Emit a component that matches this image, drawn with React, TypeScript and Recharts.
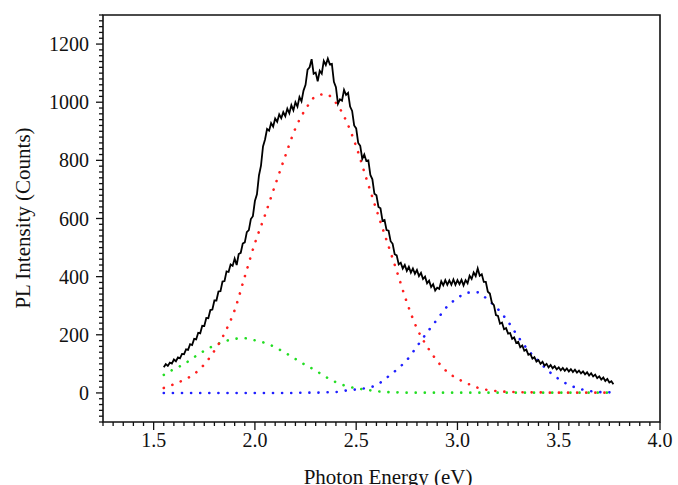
import { LineChart, Line, XAxis, YAxis, ReferenceArea } from 'recharts';

// measured PL spectrum, one reading every 0.01 eV starting at 1.55 eV
const PL_START = 1.55;
const PL_STEP = 0.01;
const plCounts = [
  88, 99, 93, 104, 101, 115, 109, 122, 119, 134,
  133, 150, 148, 168, 165, 186, 184, 207, 205, 231,
  230, 258, 257, 285, 287, 318, 318, 349, 350, 383,
  385, 418, 416, 442, 437, 462, 440, 478, 482, 514,
  518, 553, 560, 598, 608, 660, 683, 748, 782, 848,
  872, 908, 902, 928, 916, 944, 933, 958, 945, 966,
  952, 978, 962, 990, 972, 1000, 985, 1018, 1003, 1040,
  1060, 1112, 1120, 1148, 1098, 1102, 1072, 1108, 1098, 1142,
  1128, 1150, 1130, 1132, 1070, 1052, 995, 1010, 1005, 1042,
  1025, 1032, 985, 970, 920, 910, 860, 850, 805, 820,
  798, 800, 750, 735, 685, 680, 640, 635, 592, 595,
  560, 558, 522, 513, 477, 473, 442, 448, 428, 440,
  420, 434, 414, 428, 410, 423, 402, 413, 392, 400,
  377, 386, 364, 374, 352, 362, 358, 384, 370, 388,
  372, 387, 372, 390, 372, 388, 374, 389, 370, 388,
  377, 403, 392, 414, 402, 428, 403, 408, 382, 382,
  348, 342, 310, 302, 268, 265, 238, 242, 219, 223,
  204, 206, 186, 191, 172, 176, 157, 163, 145, 149,
  131, 134, 118, 123, 108, 113, 100, 107, 94, 100,
  88, 96, 85, 92, 81, 88, 78, 86, 76, 84,
  74, 82, 72, 80, 70, 77, 67, 74, 64, 71,
  60, 68, 57, 63, 51, 57, 46, 53, 41, 48,
  36, 40, 30,
];

// gaussian fit components
const fitEnergy = [
  1.55, 1.6, 1.65, 1.7, 1.75, 1.8, 1.85, 1.9, 1.95, 2.0,
  2.05, 2.1, 2.15, 2.2, 2.25, 2.3, 2.35, 2.4, 2.45, 2.5,
  2.55, 2.6, 2.65, 2.7, 2.75, 2.8, 2.85, 2.9, 2.95, 3.0,
  3.05, 3.1, 3.15, 3.2, 3.25, 3.3, 3.35, 3.4, 3.45, 3.5,
  3.55, 3.6, 3.65, 3.7, 3.75, 3.77,
];
const fitRed = [
  17, 30, 45, 65, 98, 145, 205, 285, 400, 515,
  612, 715, 815, 910, 976, 1020, 1028, 998, 937, 848,
  738, 630, 525, 420, 312, 222, 160, 110, 72, 49,
  32, 18, 10, 6, 4, 3, 2, 2, 1, 1,
  1, 1, 1, 1, 1, 1,
];
const fitGreen = [
  62, 82, 99, 123, 145, 163, 177, 186, 188, 181,
  172, 157, 138, 117, 96, 77, 55, 37, 24, 16,
  11, 6, 3, 2, 1, 1, 1, 1, 1, 1,
  1, 1, 1, 1, 1, 1, 1, 1, 1, 1,
  1, 1, 1, 1, 1, 1,
];
const fitBlue = [
  0, 0, 0, 0, 0, 0, 0, 0, 0, 0,
  0, 0, 0, 0, 1, 1, 2, 3, 8, 12,
  17, 27, 52, 80, 113, 160, 208, 253, 298, 326,
  345, 346, 320, 288, 245, 193, 146, 110, 75, 48,
  28, 15, 7, 3, 2, 2,
];

const xMajorTicks = [1.5, 2.0, 2.5, 3.0, 3.5, 4.0];
const yMajorTicks = [0, 200, 400, 600, 800, 1000, 1200];

const X_DOMAIN = [1.25, 4.0];
const Y_DOMAIN = [-100, 1300];
const FONT = '"Liberation Serif", "Times New Roman", serif';

const spectrum = plCounts.map((v, i) => ({ e: +(PL_START + i * PL_STEP).toFixed(2), v }));
const redData = fitEnergy.map((e, i) => ({ e, v: fitRed[i] }));
const greenData = fitEnergy.map((e, i) => ({ e, v: fitGreen[i] }));
const blueData = fitEnergy.map((e, i) => ({ e, v: fitBlue[i] }));

// minor ticks every 0.05 eV / 20 counts
const xTicks: number[] = [];
for (let i = 0; i <= 55; i++) xTicks.push(+(1.25 + i * 0.05).toFixed(2));
const yTicks: number[] = [];
for (let i = 0; i <= 70; i++) yTicks.push(-100 + i * 20);

const isMajorX = (v: number) => xMajorTicks.some(t => Math.abs(t - v) < 1e-6);
const isMajorY = (v: number) => yMajorTicks.includes(v);

const XTick = ({ x, y, payload }: any) => {
  const major = isMajorX(payload.value);
  return (
    <g>
      <line x1={x} y1={y} x2={x} y2={y + (major ? 8 : 4)} stroke="#111" strokeWidth={1.3} />
      {major && (
        <text x={x} y={y + 25} textAnchor="middle" fontFamily={FONT} fontSize={20} fill="#111">
          {payload.value.toFixed(1)}
        </text>
      )}
    </g>
  );
};

const YTick = ({ x, y, payload }: any) => {
  const major = isMajorY(payload.value);
  return (
    <g>
      <line x1={x - (major ? 7 : 4)} y1={y} x2={x} y2={y} stroke="#111" strokeWidth={1.3} />
      {major && (
        <text x={x - 14} y={y + 7} textAnchor="end" fontFamily={FONT} fontSize={20} fill="#111">
          {payload.value}
        </text>
      )}
    </g>
  );
};

const dotted = { strokeWidth: 2.6, strokeDasharray: '0.1 9', strokeLinecap: 'round' as const };

export default function App() {
  return (
    <div style={{ position: 'absolute', left: 0, top: 0, width: 678, height: 485, background: '#fff', overflow: 'hidden' }}>
      <LineChart width={678} height={485} margin={{ top: 15, right: 18, bottom: 0, left: 0 }}>
        <XAxis
          dataKey="e"
          type="number"
          domain={X_DOMAIN}
          ticks={xTicks}
          interval={0}
          allowDataOverflow
          axisLine={false}
          tickLine={false}
          tickSize={0}
          tickMargin={0}
          height={63}
          tick={<XTick />}
        />
        <YAxis
          type="number"
          domain={Y_DOMAIN}
          ticks={yTicks}
          interval={0}
          allowDataOverflow
          axisLine={false}
          tickLine={false}
          tickSize={0}
          tickMargin={0}
          width={103}
          tick={<YTick />}
        />
        <ReferenceArea x1={1.25} x2={4.0} y1={-100} y2={1300} fill="none" stroke="#111" strokeWidth={1.6} />
        <Line data={greenData} dataKey="v" type="monotone" stroke="#22dd22" dot={false} isAnimationActive={false} {...dotted} />
        <Line data={redData} dataKey="v" type="monotone" stroke="#ff1f1f" dot={false} isAnimationActive={false} {...dotted} />
        <Line data={blueData} dataKey="v" type="monotone" stroke="#1f1fff" dot={false} isAnimationActive={false} {...dotted} />
        <Line data={spectrum} dataKey="v" type="linear" stroke="#000" strokeWidth={1.8} dot={false} isAnimationActive={false} />
      </LineChart>
      <svg width={678} height={485} style={{ position: 'absolute', left: 0, top: 0, pointerEvents: 'none' }}>
        <text x={388} y={484} textAnchor="middle" fontFamily={FONT} fontSize={21} fill="#111">
          Photon Energy (eV)
        </text>
        <text
          x={0}
          y={0}
          transform="translate(30 218) rotate(-90)"
          textAnchor="middle"
          fontFamily={FONT}
          fontSize={21}
          fill="#111"
        >
          PL Intensity (Counts)
        </text>
      </svg>
    </div>
  );
}
